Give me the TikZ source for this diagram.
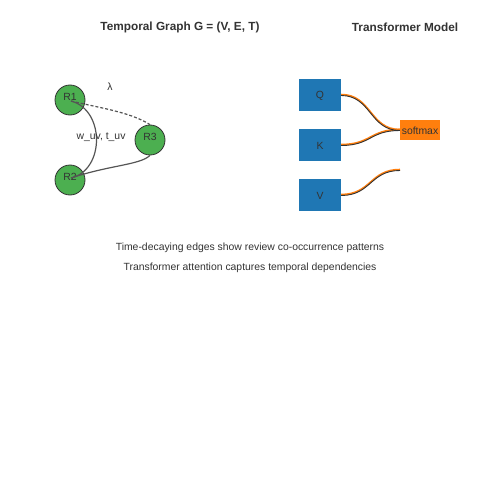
\documentclass[tikz,border=0pt]{standalone}
\usepackage{fontspec}
\setmainfont{Liberation Sans}
\usetikzlibrary{calc}
\definecolor{txt}{HTML}{333333}
\definecolor{nodegreen}{HTML}{4CAF50}
\definecolor{boxblue}{HTML}{1F77B4}
\definecolor{boxorange}{HTML}{FF7F0E}
\definecolor{edgegray}{HTML}{555555}
\tikzset{
  normaltext/.style={font=\fontsize{10.4}{12}\selectfont, text=txt, inner sep=0pt},
  titletext/.style={font=\fontsize{11.8}{14}\selectfont\bfseries, text=txt, inner sep=0pt},
  gnode/.style={circle, fill=nodegreen, draw=txt, line width=0.8pt, minimum size=30pt, inner sep=0pt},
  qkv/.style={rectangle, fill=boxblue, draw=none, minimum width=42pt, minimum height=32pt, inner sep=0pt},
  smbox/.style={rectangle, fill=boxorange, draw=none, minimum width=40pt, minimum height=20pt, inner sep=0pt},
  gedge/.style={draw=edgegray, line width=1.2pt},
  gdash/.style={draw=edgegray, line width=1.2pt, dash pattern=on 3pt off 2pt},
  flowo/.style={draw=boxorange, line width=1.8pt},
  flowd/.style={draw=txt, line width=0.9pt},
}
\begin{document}
\begin{tikzpicture}[x=1pt,y=-1pt]
\useasboundingbox (0,0) rectangle (500,500);
\fill[white] (0,0) rectangle (500,500);

% titles
\node[titletext] (t1) at (180,27) {Temporal Graph G = (V, E, T)};
\node[titletext] (t2) at (405,27) {Transformer Model};

% graph nodes
\node[gnode, label={[normaltext, yshift=3pt]center:R1}] (R1) at (70,100) {};
\node[gnode, label={[normaltext, yshift=3pt]center:R2}] (R2) at (70,180) {};
\node[gnode, label={[normaltext, yshift=3pt]center:R3}] (R3) at (150,140) {};

% graph edges
\draw[gedge] ($(R1.center)+(1,1)$) .. controls (105,110) and (105,170) .. ($(R2.center)+(1,-2)$);
\draw[gdash] ($(R1.center)+(1,1)$) .. controls (100,108) and (130,112) .. (R3.north);
\draw[gedge] (R3.south) .. controls (140,165) and (110,165) .. ($(R2.center)+(1,-2)$);

\node[normaltext] (lam) at (110,87) {λ};
\node[normaltext] (wt) at (101,137) {w\_uv, t\_uv};

% transformer
\node[qkv, label={[normaltext, yshift=-1.2pt]center:Q}] (Q) at (320,95) {};
\node[qkv, label={[normaltext, yshift=-1.2pt]center:K}] (K) at (320,145) {};
\node[qkv, label={[normaltext, yshift=-1.2pt]center:V}] (V) at (320,195) {};
\node[smbox, label={[normaltext, yshift=-1.2pt]center:softmax}] (sm) at (420,130) {};
\coordinate (vend) at (400,170);

\foreach \s/\e in {Q/sm, K/sm, V/vend}{
  \draw[flowo] ($(\s.east)+(0,-0.4)$) .. controls +(30,0) and +(-30,0) .. ($(\e.west |- \e)+(0,-0.4)$);
}
\draw[flowd] ($(Q.east)+(0,0.5)$) .. controls +(30,0) and +(-30,0) .. ($(sm.west)+(0,0.5)$);
\draw[flowd] ($(K.east)+(0,0.5)$) .. controls +(30,0) and +(-30,0) .. ($(sm.west)+(0,0.5)$);
\draw[flowd] ($(V.east)+(0,0.5)$) .. controls +(30,0) and +(-30,0) .. ($(vend)+(0,0.5)$);

% captions
\node[normaltext] (c1) at (250,247.5) {Time-decaying edges show review co-occurrence patterns};
\node[normaltext] (c2) at (250,267.5) {Transformer attention captures temporal dependencies};
\end{tikzpicture}
\end{document}
